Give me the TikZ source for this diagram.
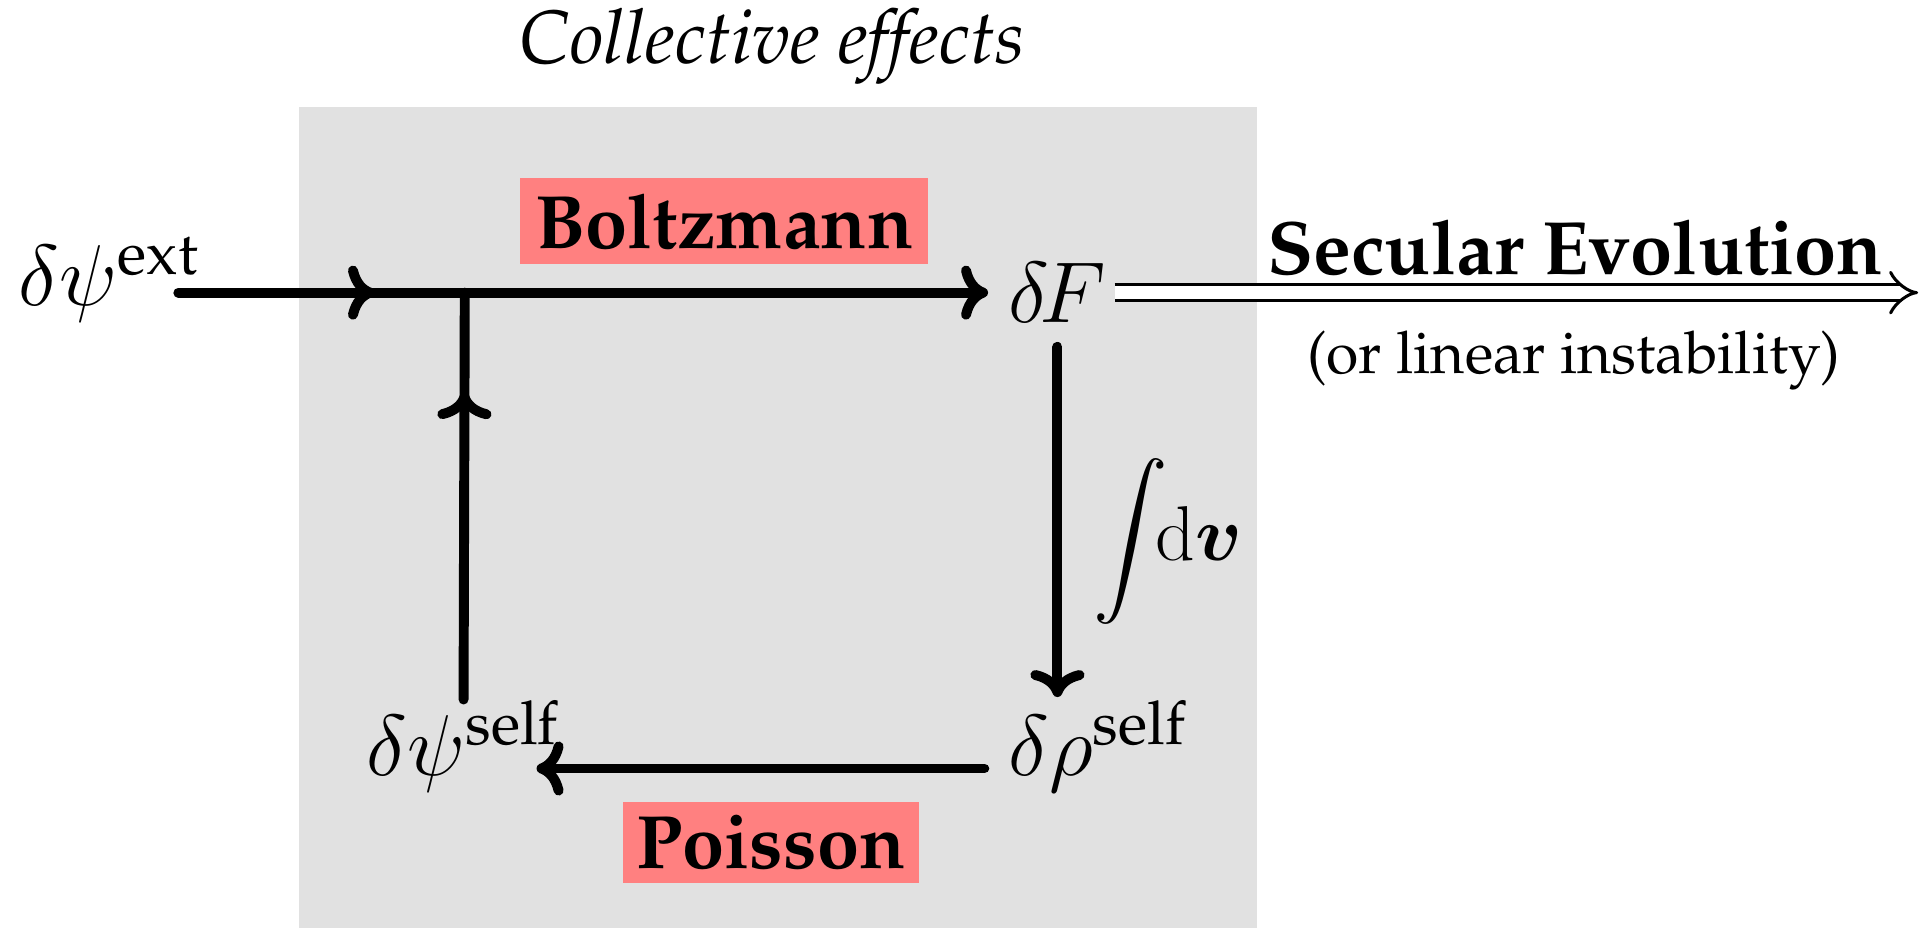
\RequirePackage{fix-cm}
\documentclass[tikz,border=0pt]{standalone}
\usepackage{amsmath}
\usepackage[T1]{fontenc}
\renewcommand{\rmdefault}{ppl}
\usetikzlibrary{arrows.meta,decorations.markings}
\definecolor{panel}{RGB}{225,225,225}
\definecolor{tag}{RGB}{255,128,128}
\tikzset{
  tip/.tip={Computer Modern Rightarrow[length=2.2mm,width=4.4mm]},
  wire/.style={line width=2.3pt,line cap=round},
  flow/.style={wire,-tip},
  midflow/.style={postaction={decorate},
    decoration={markings,mark=at position #1 with {\arrow{tip}}}},
  secular/.style={double,double distance=1mm,line width=0.7pt,-{Implies}},
  var/.style={inner sep=0pt,font=\fontsize{20}{24}\selectfont},
  tagbox/.style={fill=tag,inner sep=0pt,font=\fontsize{17.5}{21}\selectfont\bfseries},
}
\begin{document}
\begin{tikzpicture}[x=0.1mm,y=0.1mm]
        \useasboundingbox (0,0) rectangle (1568,755);
        % panel
        \fill[panel] (243,0) rectangle (1022,668);
        \node[font=\fontsize{17.5}{21}\selectfont\itshape] (title) at (628,717) {Collective effects};
        % variables
        \node[var] (ext) at (89,527) {$\delta\psi^{\text{ext}}$};
        \node[var] (F) at (860,517) {$\delta\mkern-2mu F$};
        \node[var] (rho) at (893,148) {$\delta\rho^{\text{self}}$};
        \node[var] (self) at (377,148) {$\delta\psi^{\text{self}}$};
        \node[var,font=\fontsize{18}{22}\selectfont] (dv) at (950,315) {$\displaystyle\int\!\!\mathrm{d}\boldsymbol{v}$};
        \coordinate (in) at (145,517);
        \coordinate (jn) at (378,517);
        \coordinate (out) at (1560,517);
        % labels
        \node[tagbox,minimum width=3.32cm,minimum height=0.7cm] (boltz) at (589,575) {Boltzmann};
        \node[tagbox,minimum width=2.41cm,minimum height=0.66cm] (poisson) at (627,70) {Poisson};
        \node[font=\fontsize{17.5}{21}\selectfont\bfseries] (evol) at (1281,554) {Secular Evolution};
        \node[font=\fontsize{13.6}{16}\selectfont] (instab) at (1280,462) {(or linear instability)};
        % loop
        \draw[flow,midflow=1.6cm] (in) -- ([xshift=-1.6mm]F.west);
        \draw[wire,midflow=2.5cm] (self.north) -- (jn);
        \draw[flow,shorten >=0.2mm] ([yshift=-1.9mm]F.south) -- (F.south |- rho.north);
        \draw[flow] ([shift={(-1.9mm,-1.8mm)}]rho.west) -- ([shift={(-2mm,-1.8mm)}]self.east);
        \draw[secular] ([xshift=0.6mm]F.east) -- (out);
    \end{tikzpicture}
\end{document}
